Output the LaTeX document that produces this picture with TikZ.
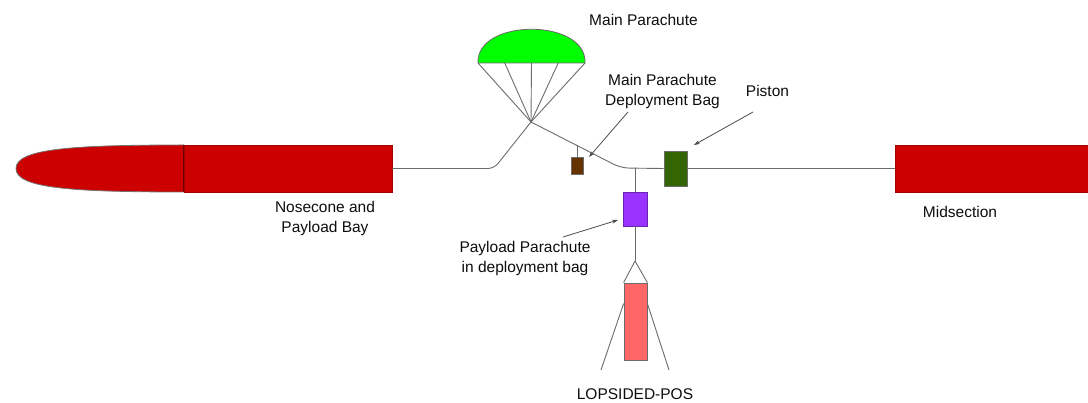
\documentclass[tikz,border=0pt]{standalone}
\usepackage{fontspec}
\setmainfont{Liberation Sans}
\usetikzlibrary{arrows.meta}

\definecolor{bodyred}{HTML}{CC0000}
\definecolor{chutegreen}{HTML}{00FF00}
\definecolor{bagbrown}{HTML}{663300}
\definecolor{pistongreen}{HTML}{336600}
\definecolor{bagpurple}{HTML}{9933FF}
\definecolor{posred}{HTML}{FF6666}
\definecolor{linegray}{HTML}{6B6B6B}

\begin{document}
\begin{tikzpicture}[
    x=1pt, y=-1pt,
    part/.style={draw=linegray, line width=0.8pt, inner sep=0pt},
    body/.style={part, fill=bodyred, draw=bodyred!80!black, minimum height=47pt},
    cord/.style={draw=linegray, line width=0.9pt},
    pointer/.style={-{Stealth[length=6pt,width=4pt]}, draw=black!70, line width=0.8pt},
    label/.style={font=\fontsize{15.5}{20}\selectfont, text=black!95, align=center}
]
    \useasboundingbox (0,0) rectangle (1088,403);

    % airframe sections
    \fill[bodyred] (184,145) .. controls (70,145) and (16,149) .. (16,168.5)
        .. controls (16,188) and (70,192) .. (184,192) -- cycle;
    \draw[draw=black!55, line width=0.8pt] (184,145) .. controls (70,145) and (16,149) .. (16,168.5)
        .. controls (16,188) and (70,192) .. (184,192);
    \node[body, minimum width=208pt] (bay) at (288,168.5) {};
    \draw[bodyred!55!black, line width=0.8pt] (bay.north west) -- (bay.south west);
    \node[body, minimum width=200pt] (mid) at (995,168.5) {};

    % main parachute canopy
    \coordinate (chute) at (531,122);
    \filldraw[fill=chutegreen, draw=linegray, line width=0.8pt]
        (478,63) .. controls (476,18) and (587,18) .. (585,63) -- cycle;
    \foreach \x in {478,504.75,531.5,558.25,585}
        \draw[cord] (\x,63) -- (chute);

    % deployment bags, piston and payload
    \node[part, fill=bagbrown, minimum width=12pt, minimum height=17pt] (mainbag) at (577,165.5) {};
    \node[part, fill=pistongreen, minimum width=23pt, minimum height=35pt] (piston) at (675.5,168.5) {};
    \node[part, fill=bagpurple, draw=bagpurple!70!black, minimum width=24pt, minimum height=34pt] (pbag) at (635,209) {};
    \node[part, fill=posred, minimum width=23pt, minimum height=77pt] (pos) at (635.5,321.5) {};

    % shock cord
    \coordinate (bend) at (621,168);
    \coordinate (split) at (635,168);
    \coordinate (baghook) at (577,145.5);
    \coordinate (apex) at (635,261);
    \draw[cord, rounded corners=6pt] (bay.east) -- (494,168.5) -- (chute);
    \draw[cord, rounded corners=8pt] (chute) -- (bend) -- (piston.west);
    \draw[cord] (piston.east) -- (mid.west);
    \draw[cord] (mainbag.north) -- (baghook);
    \draw[cord] (split) -- (pbag.north);
    \draw[cord] (pbag.south) -- (apex);
    \draw[cord] (apex) -- (pos.north west);
    \draw[cord] (apex) -- (pos.north east);
    \draw[cord] ([yshift=-21pt]pos.north west) -- (601,370);
    \draw[cord] ([yshift=-21pt]pos.north east) -- (669,370);

    % labels
    \node[label] (lchute) at (643.5,20) {Main Parachute};
    \node[label] (lmainbag) at (662.5,91) {Main Parachute\\Deployment Bag};
    \node[label] (lpiston) at (767.5,91) {Piston};
    \node[label] (lbay) at (325,218) {Nosecone and\\Payload Bay};
    \node[label] (lmid) at (960,212) {Midsection};
    \node[label] (lpbag) at (525,258.5) {Payload Parachute\\in deployment bag};
    \node[label] (lpos) at (635,394) {LOPSIDED-POS};

    % pointers
    \coordinate (tmainbag) at (628,112);
    \coordinate (tpiston) at (753,112);
    \coordinate (tpbag) at (563,237);
    \draw[pointer] (tmainbag) -- (589,157);
    \draw[pointer] (tpiston) -- (694,145);
    \draw[pointer] (tpbag) -- (618,220);
\end{tikzpicture}
\end{document}
